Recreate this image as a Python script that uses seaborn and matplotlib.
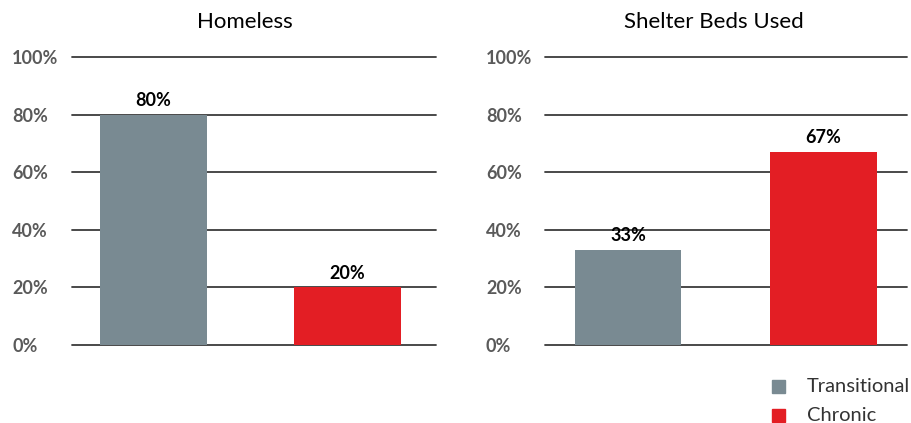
import matplotlib
matplotlib.use("Agg")
import matplotlib.pyplot as plt
import seaborn as sns
import pandas as pd
from matplotlib.patches import Rectangle

categories = ["Transitional", "Chronic"]
homeless = [80, 20]
shelter_beds = [33, 67]
panel_titles = ["Homeless", "Shelter Beds Used"]
ytick_values = [0, 20, 40, 60, 80, 100]
ytick_labels = ["0%", "20%", "40%", "60%", "80%", "100%"]
colors = {"Transitional": "#798A92", "Chronic": "#E31E24"}

sns.set_theme(style="white")
plt.rcParams["font.family"] = ["Lato", "DejaVu Sans"]

W, H = 912, 423
fig = plt.figure(figsize=(W / 100, H / 100), dpi=100)

def px_axes(x0, x1, ytop, ybot):
    return fig.add_axes([x0 / W, (H - ybot) / H, (x1 - x0) / W, (ybot - ytop) / H])

panels = [
    (px_axes(72, 436, 57, 345), homeless, panel_titles[0], 245, 43.0, (-0.42, 1.456), 0.55),
    (px_axes(545, 907, 57, 345), shelter_beds, panel_titles[1], 714, 42.5, (-0.425, 1.427), 0.545),
]

for ax, vals, title, tx, pad, xl, bw in panels:
    df = pd.DataFrame({"category": categories, "value": vals})
    sns.barplot(data=df, x="category", y="value", hue="category",
                palette=colors, order=categories, hue_order=categories,
                width=bw, dodge=False, legend=False, ax=ax, zorder=3,
                saturation=1, linewidth=0)
    ax.set_ylim(0, 100)
    ax.set_xlim(*xl)
    ax.set_yticks(ytick_values)
    ax.set_yticklabels(ytick_labels)
    for lab in ax.get_yticklabels():
        lab.set_horizontalalignment("left")
        lab.set_fontweight("bold")
        lab.set_color("#5a5a5a")
        lab.set_fontsize(13)
    ax.tick_params(axis="y", length=0, pad=pad)
    ax.set_xticks([])
    ax.set_xlabel("")
    ax.set_ylabel("")
    for s in ax.spines.values():
        s.set_visible(False)
    for yv in ytick_values:
        ax.axhline(yv, color="#3a3a3a", lw=1.3, zorder=1, clip_on=False)
    for i, v in enumerate(vals):
        ax.annotate(f"{v}%", (i, v), xytext=(0, 4), textcoords="offset points",
                    ha="center", va="bottom", fontsize=13, fontweight="bold",
                    color="black")
    fig.text(tx / W, 1 - 22 / H, title, ha="center", va="center",
             fontsize=16, color="black")

# legend
for i, cat in enumerate(categories):
    yc = 386 + i * 29
    fig.patches.append(Rectangle((772 / W, (H - yc - 6.5) / H), 13 / W, 13 / H,
                                 transform=fig.transFigure, color=colors[cat]))
    fig.text(807 / W, 1 - yc / H, cat, ha="left", va="center", fontsize=14.5,
             color="#333333")

fig.savefig("out.png", dpi=100)
